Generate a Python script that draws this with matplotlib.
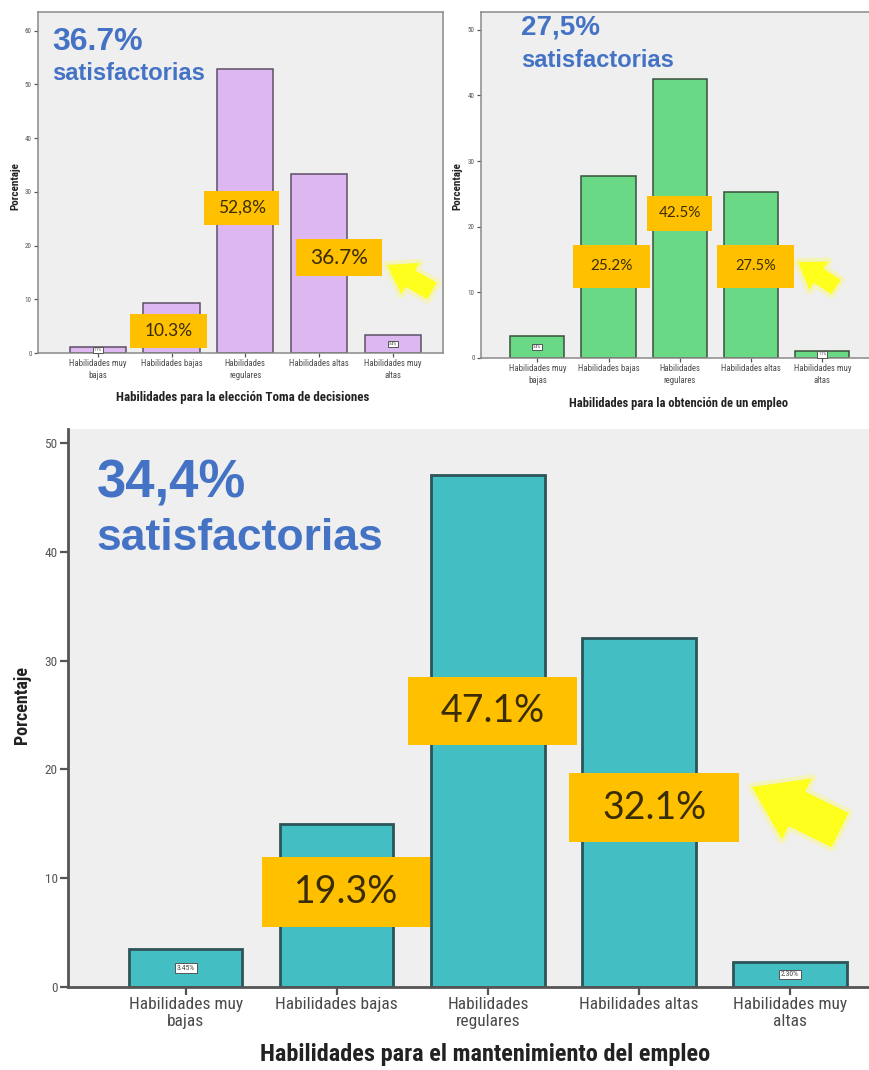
import matplotlib
matplotlib.use("Agg")
import matplotlib.pyplot as plt
from matplotlib import font_manager
from matplotlib.patches import Rectangle, Polygon
import numpy as np

# ---------------- data ----------------
categories = ["Habilidades muy\nbajas", "Habilidades bajas", "Habilidades\nregulares",
              "Habilidades altas", "Habilidades muy\naltas"]

decision_pct = [1.1, 9.3, 52.8, 33.4, 3.4]          # Toma de decisiones
obtencion_pct = [3.4, 27.7, 42.5, 25.3, 1.1]        # Obtención de un empleo
mantenimiento_pct = [3.45, 15.0, 47.1, 32.1, 2.3]   # Mantenimiento del empleo

decision_headline = "36.7%"
obtencion_headline = "27,5%"
mantenimiento_headline = "34,4%"
headline_word = "satisfactorias"

decision_callouts = ["10.3%", "52,8%", "36.7%"]
obtencion_callouts = ["25.2%", "42.5%", "27.5%"]
mantenimiento_callouts = ["19.3%", "47.1%", "32.1%"]

decision_xlabel = "Habilidades para la elección Toma de decisiones"
obtencion_xlabel = "Habilidades para la obtención de un empleo"
mantenimiento_xlabel = "Habilidades para el mantenimiento del empleo"
ylabel = "Porcentaje"

# ---------------- fonts ----------------
available = {f.name for f in font_manager.fontManager.ttflist}


def pick(*names):
    for n in names:
        if n in available:
            return n
    return "DejaVu Sans"


NARROW = pick("Liberation Sans Narrow", "Roboto Condensed", "DejaVu Sans")
NARROW_STRETCH = "normal" if NARROW != "DejaVu Sans" else "condensed"
HEAD = pick("Liberation Sans", "Arial", "DejaVu Sans")
CALLOUT = pick("Lato", "Open Sans", "DejaVu Sans")

W, H = 870, 1070
fig = plt.figure(figsize=(W / 100, H / 100), dpi=100, facecolor="white")


def px(x, y):
    """pixel position (origin top-left) -> figure fraction"""
    return x / W, 1 - y / H


def axes_at(left, top, right, bottom):
    x0, y1 = px(left, top)
    x1, y0 = px(right, bottom)
    return fig.add_axes([x0, y0, x1 - x0, y1 - y0])


BLUE = "#4472C4"
GOLD = "#FFC000"
ARROW = "#FFFF1E"
BG = "#EFEFEF"


def draw_panel(ax, values, color, edge, xlim, ylim, ystep, bar_w, lw,
               tick_fs, ytick_fs, label_fmt, small_fs, spine_c, spine_w,
               tick_len, linespacing):
    x = np.arange(len(values))
    ax.set_facecolor(BG)
    ax.bar(x, values, width=bar_w, color=color, edgecolor=edge, linewidth=lw, zorder=2)
    ax.set_xlim(*xlim)
    ax.set_ylim(*ylim)
    ax.set_yticks(np.arange(0, ylim[1] + 0.01, ystep))
    ax.set_xticks(x)
    ax.set_xticklabels(categories, fontsize=tick_fs, family=NARROW,
                       fontstretch=NARROW_STRETCH, color="#4A4A4A",
                       linespacing=linespacing)
    for t in ax.get_yticklabels():
        t.set_fontsize(ytick_fs)
        t.set_color("#555555")
        t.set_family(NARROW)
    ax.tick_params(axis="both", direction="out", length=tick_len, width=spine_w * 0.8,
                   colors="#555555", pad=1.5)
    ax.tick_params(axis="x", colors="#555555", labelcolor="#4A4A4A")
    for s in ax.spines.values():
        s.set_color(spine_c)
        s.set_linewidth(spine_w)
    # small value tags on the two extreme bars
    for i in (0, len(values) - 1):
        ax.text(x[i], values[i] / 2, label_fmt.format(values[i]), ha="center", va="center",
                fontsize=small_fs, color="#444444", family=NARROW, zorder=4,
                bbox=dict(boxstyle="square,pad=0.25", fc="white", ec="#555555", lw=0.7))
    return ax


def callout(ax, text, cx, cy, w, h, fs):
    ax.add_patch(Rectangle((cx - w / 2, cy - h / 2), w, h, facecolor=GOLD,
                           edgecolor="none", zorder=5, clip_on=False))
    ax.text(cx, cy, text, ha="center", va="center", fontsize=fs, family=CALLOUT,
            color="#3A2C05", zorder=6, clip_on=False)


def arrow(tail, tip, shaft_w, head_w, head_len):
    (x0, y0), (x1, y1) = tail, tip
    d = np.array([x1 - x0, y1 - y0], dtype=float)
    L = np.hypot(*d)
    u = d / L
    n = np.array([-u[1], u[0]])
    base = np.array([x1, y1]) - u * head_len
    t = np.array([x0, y0])
    pts = [t + n * shaft_w / 2, base + n * shaft_w / 2, base + n * head_w / 2,
           np.array([x1, y1]), base - n * head_w / 2, base - n * shaft_w / 2,
           t - n * shaft_w / 2]
    fpts = [px(p[0], p[1]) for p in pts]
    # soft halo
    fig.patches.append(Polygon(fpts, closed=True, transform=fig.transFigure,
                               facecolor=ARROW, edgecolor=ARROW, lw=6, alpha=0.25,
                               joinstyle="round", zorder=8))
    fig.patches.append(Polygon(fpts, closed=True, transform=fig.transFigure,
                               facecolor=ARROW, edgecolor="none", zorder=9))


# ---------------- top-left: toma de decisiones ----------------
ax1 = axes_at(38, 12, 443, 353)
draw_panel(ax1, decision_pct, "#DDB8F0", "#5E4F66", (-0.81, 4.68), (0, 63.5), 10,
           0.76, 1.1, 6.3, 5.0, "{:.1f}%", 3.2, "#8A8A8A", 1.1, 3, 1.4)
ax1.text(-0.62, 56.4, decision_headline, fontsize=23, fontweight="bold", color=BLUE,
         family=HEAD, va="baseline")
ax1.text(-0.62, 50.8, headline_word, fontsize=17, fontweight="bold", color=BLUE,
         family=HEAD, va="baseline")
callout(ax1, decision_callouts[0], 0.96, 4.05, 1.04, 6.3, 12.5)
callout(ax1, decision_callouts[1], 1.95, 27.0, 1.02, 6.5, 12.5)
callout(ax1, decision_callouts[2], 3.27, 17.75, 1.16, 6.9, 15)
fig.text(*px(243, 397), decision_xlabel, ha="center", va="center", fontsize=9.4,
         fontweight="bold", family=NARROW, fontstretch=NARROW_STRETCH, color="#222222")
fig.text(*px(15, 186), ylabel, ha="center", va="center", rotation=90, fontsize=8,
         fontweight="bold", family=NARROW, fontstretch=NARROW_STRETCH, color="#222222")
arrow((432, 291), (387, 265), 19, 36, 27)

# ---------------- top-right: obtención de un empleo ----------------
ax2 = axes_at(481, 12, 875, 358)
draw_panel(ax2, obtencion_pct, "#6AD985", "#3A4F3C", (-0.79, 4.74), (0, 52.7), 10,
           0.76, 1.1, 6.3, 5.0, "{:.1f}%", 3.2, "#8A8A8A", 1.1, 3, 1.4)
ax2.spines["right"].set_visible(False)
ax2.text(-0.23, 49.2, obtencion_headline, fontsize=20, fontweight="bold", color=BLUE,
         family=HEAD, va="baseline")
ax2.text(-0.23, 44.3, headline_word, fontsize=17, fontweight="bold", color=BLUE,
         family=HEAD, va="baseline")
callout(ax2, obtencion_callouts[0], 1.04, 13.95, 1.08, 6.5, 11)
callout(ax2, obtencion_callouts[1], 2.0, 22.05, 0.91, 5.3, 11)
callout(ax2, obtencion_callouts[2], 3.06, 13.95, 1.08, 6.6, 10.5)
fig.text(*px(679, 403), obtencion_xlabel, ha="center", va="center", fontsize=9,
         fontweight="bold", family=NARROW, fontstretch=NARROW_STRETCH, color="#222222")
fig.text(*px(457, 186), ylabel, ha="center", va="center", rotation=90, fontsize=8,
         fontweight="bold", family=NARROW, fontstretch=NARROW_STRETCH, color="#222222")
arrow((836, 287), (798, 262), 17, 34, 25)

# ---------------- bottom: mantenimiento del empleo ----------------
ax3 = axes_at(68, 429, 870, 987)
draw_panel(ax3, mantenimiento_pct, "#43BFC4", "#2D5458", (-0.78, 4.53), (0, 51.3), 10,
           0.75, 2.0, 12.5, 9.5, "{:.2f}%", 5.5, "#555555", 2.0, 6, 1.1)
ax3.spines["top"].set_visible(False)
ax3.spines["right"].set_visible(False)
ax3.text(-0.59, 45.0, mantenimiento_headline, fontsize=38, fontweight="bold", color=BLUE,
         family=HEAD, va="baseline")
ax3.text(-0.59, 40.2, headline_word, fontsize=32, fontweight="bold", color=BLUE,
         family=HEAD, va="baseline")
callout(ax3, mantenimiento_callouts[0], 1.06, 8.75, 1.11, 6.4, 27)
callout(ax3, mantenimiento_callouts[1], 2.03, 25.4, 1.12, 6.25, 27)
callout(ax3, mantenimiento_callouts[2], 3.10, 16.5, 1.12, 6.35, 27)
fig.text(*px(485, 1055), mantenimiento_xlabel, ha="center", va="center", fontsize=17.5,
         fontweight="bold", family=NARROW, fontstretch=NARROW_STRETCH, color="#222222")
fig.text(*px(22, 705), ylabel, ha="center", va="center", rotation=90, fontsize=13,
         fontweight="bold", family=NARROW, fontstretch=NARROW_STRETCH, color="#222222")
arrow((840, 830), (752, 787), 38, 68, 50)

fig.savefig("out.png", dpi=100, facecolor="white")
